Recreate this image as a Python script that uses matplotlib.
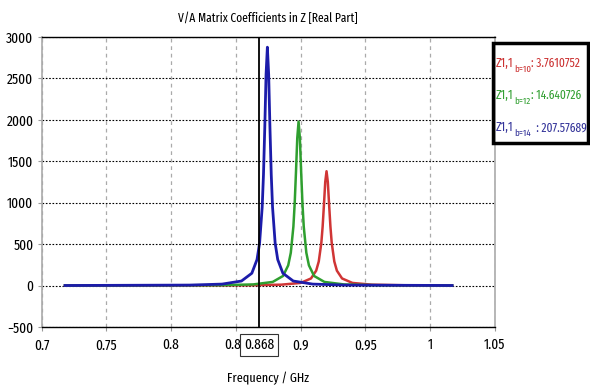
import matplotlib
matplotlib.use("Agg")
import matplotlib.pyplot as plt
from matplotlib.patches import Rectangle

# resonance curves (frequency in GHz, Re(Z))
freq_b10 = [0.718, 0.860, 0.885, 0.900, 0.908, 0.912, 0.914, 0.916, 0.917, 0.918, 0.919,
            0.920, 0.921, 0.922, 0.923, 0.924, 0.926, 0.928, 0.932, 0.940, 0.955, 0.980, 1.017]
z_b10 = [0, 4, 11, 32, 86, 180, 291, 518, 713, 975, 1250,
         1380, 1250, 975, 713, 518, 291, 180, 86, 32, 11, 4, 1]

freq_b12 = [0.718, 0.8384, 0.8634, 0.8784, 0.8864, 0.8904, 0.8924, 0.8944, 0.8954, 0.8964, 0.8974,
            0.8984, 0.8994, 0.9004, 0.9014, 0.9024, 0.9044, 0.9064, 0.9104, 0.9184, 0.9334, 0.9584, 1.017]
z_b12 = [1, 5, 14, 44, 116, 244, 396, 712, 990, 1370, 1781,
         1979, 1781, 1370, 990, 712, 396, 244, 116, 44, 14, 5, 1]

freq_b14 = [0.718, 0.8143, 0.8393, 0.8543, 0.8623, 0.8663, 0.8683, 0.8703, 0.8713, 0.8723, 0.8733,
            0.8743, 0.8753, 0.8763, 0.8773, 0.8783, 0.8803, 0.8823, 0.8863, 0.8943, 0.9093, 0.9343, 1.017]
z_b14 = [1, 6, 18, 55, 149, 314, 514, 946, 1339, 1905, 2551,
         2877, 2551, 1905, 1339, 946, 514, 314, 149, 55, 18, 6, 1]

x_ticks = [0.7, 0.75, 0.8, 0.85, 0.9, 0.95, 1.0, 1.05]
x_tick_labels = ["0.7", "0.75", "0.8", "0.85", "0.9", "0.95", "1", "1.05"]
y_ticks = [-500, 0, 500, 1000, 1500, 2000, 2500, 3000]
marker_freq = 0.868

legend_subs = ["b=10", "b=12", "b=14"]
legend_values = [": 3.7610752", ": 14.640726", "  : 207.57689"]
legend_colors = ["#cc3333", "#33a033", "#333399"]

plt.rcParams["font.family"] = ["Fira Sans Extra Condensed", "DejaVu Sans"]

fig = plt.figure(figsize=(5.9, 3.87), dpi=100)
ax = fig.add_axes([0.0707, 0.155, 0.768, 0.7494])

ax.plot(freq_b10, z_b10, color="#d03535", lw=1.8, zorder=3)
ax.plot(freq_b12, z_b12, color="#2f9f2f", lw=1.8, zorder=4)
ax.plot(freq_b14, z_b14, color="#1c1caa", lw=2.0, zorder=5)

ax.axvline(marker_freq, color="black", lw=1.3, zorder=6)

ax.set_xlim(0.7, 1.05)
ax.set_ylim(-500, 3000)
ax.set_xticks(x_ticks)
ax.set_xticklabels(x_tick_labels)
ax.set_yticks(y_ticks)
ax.tick_params(axis="both", labelsize=10.5, length=3, color="#999999")
ax.tick_params(axis="x", pad=5)
ax.tick_params(axis="y", pad=3)

ax.grid(axis="y", color="black", linestyle=(0, (1.5, 1.5)), lw=0.8)
ax.grid(axis="x", color="#aaaaaa", linestyle=(0, (3, 3)), lw=0.9)
ax.set_axisbelow(True)

for side in ["left", "right"]:
    ax.spines[side].set_color("#aaaaaa")
    ax.spines[side].set_linewidth(1.2)
for side in ["top", "bottom"]:
    ax.spines[side].set_color("black")
    ax.spines[side].set_linewidth(1.0)

ax.set_title("V/A Matrix Coefficients in Z [Real Part]", fontsize=9, pad=11)
ax.set_xlabel("Frequency / GHz", fontsize=9.5, labelpad=14)

ax.text(marker_freq, -0.062, "0.868", transform=ax.get_xaxis_transform(),
        ha="center", va="center", fontsize=10.5, zorder=10,
        bbox=dict(boxstyle="square,pad=0.25", fc="white", ec="#333333", lw=0.8))

# value box at the right
fig.patches.append(Rectangle((493 / 590, 1 - 143 / 387), 95 / 590, 100 / 387,
                             transform=fig.transFigure, fill=False,
                             ec="black", lw=2.5))
for i, (sub, val, color) in enumerate(zip(legend_subs, legend_values, legend_colors)):
    base = fig.text(496 / 590, 1 - (70 + 32 * i) / 387, "Z1,1", color=color,
                    fontsize=9.5, ha="left", va="bottom")
    s = ax.annotate(sub, xy=(1, 0), xycoords=base, xytext=(0.3, -3),
                    textcoords="offset points", fontsize=7, color=color,
                    ha="left", va="bottom", annotation_clip=False)
    ax.annotate(val, xy=(1, 0), xycoords=(s, base), xytext=(0.3, 0),
                textcoords="offset points", fontsize=9, color=color,
                ha="left", va="bottom", annotation_clip=False)

fig.savefig("out.png", dpi=100)
